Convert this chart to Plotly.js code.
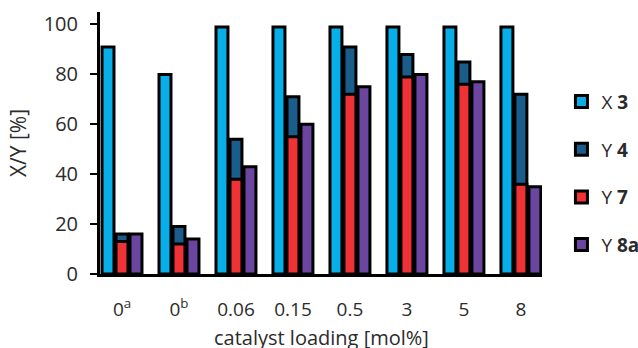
<!DOCTYPE html>
<html>
<head>
<meta charset="utf-8">
<script src="https://cdn.plot.ly/plotly-3.0.1.min.js"></script>
<style>
  html, body { margin: 0; padding: 0; background: #fff; }
  #chart { width: 638px; height: 348px; }
</style>
</head>
<body>
<div id="chart"></div>
<script>
// Catalyst loading screen: conversion of 3 and yields of 4, 7 and 8a
const loadings = ['0<sup>a</sup>', '0<sup>b</sup>', '0.06', '0.15', '0.5', '3', '5', '8'];
const conversion3 = [91, 80, 99, 99, 99, 99, 99, 99];
const yield4 = [16, 19, 54, 71, 91, 88, 85, 72];
const yield7 = [13, 12, 38, 55, 72, 79, 76, 36];
const yield8a = [16, 14, 43, 60, 75, 80, 77, 35];

const pos = loadings.map((_, i) => i);
const barW = 0.21;   // width of a single bar (category units)
const pitch = 0.2456; // distance between neighbouring bar slots

function bars(name, values, color, slot) {
  return {
    type: 'bar',
    name: name,
    x: pos,
    y: values,
    width: barW,
    offset: slot * pitch - barW / 2,
    legendgroup: name,
    marker: { color: color, line: { color: '#000', width: 3 } },
    hoverinfo: 'y+name'
  };
}

const data = [
  bars('X <b>3</b>', conversion3, '#08AEE8', -1),
  bars('Y <b>4</b>', yield4, '#1A5C8A', 0),
  bars('Y <b>7</b>', yield7, '#EE3235', 0),
  bars('Y <b>8a</b>', yield8a, '#6A46A0', 1)
];

const fam = '"Open Sans", sans-serif';
const ink = '#2b2b2b';

const layout = {
  width: 638,
  height: 348,
  margin: { l: 100, r: 96, t: 12, b: 74, autoexpand: false },
  paper_bgcolor: '#fff',
  plot_bgcolor: '#fff',
  barmode: 'overlay',
  font: { family: fam, size: 20, color: ink },
  showlegend: true,
  legend: {
    x: 1.044, xanchor: 'left',
    y: 0.385, yanchor: 'middle',
    traceorder: 'grouped',
    tracegroupgap: 20,
    font: { family: fam, size: 19, color: ink },
    itemwidth: 30
  },
  // x-axis caption sits low, right at the bottom edge of the figure
  annotations: [{
    text: 'catalyst loading [mol%]',
    xref: 'paper', yref: 'paper',
    x: 0.5, y: -0.243,
    xanchor: 'center', yanchor: 'middle',
    showarrow: false,
    font: { family: fam, size: 20, color: ink }
  }],
  xaxis: {
    range: [-0.386, 7.37],
    tickvals: pos,
    ticktext: loadings,
    ticks: '',
    ticklabelstandoff: 16,
    showgrid: false,
    zeroline: false,
    showline: true,
    linecolor: '#000',
    linewidth: 3,
    tickfont: { family: fam, size: 19, color: ink }
  },
  yaxis: {
    range: [0, 105],
    tickvals: [0, 20, 40, 60, 80, 100],
    ticks: 'outside',
    ticklen: 7,
    tickwidth: 2,
    tickcolor: '#000',
    ticklabelstandoff: 8,
    showgrid: false,
    zeroline: false,
    showline: true,
    linecolor: '#000',
    linewidth: 3,
    tickfont: { family: fam, size: 20, color: ink },
    title: { text: 'X/Y [%]', font: { family: fam, size: 21, color: ink }, standoff: 12 }
  }
};

Plotly.newPlot('chart', data, layout, { displayModeBar: false, staticPlot: true });
</script>
</body>
</html>
